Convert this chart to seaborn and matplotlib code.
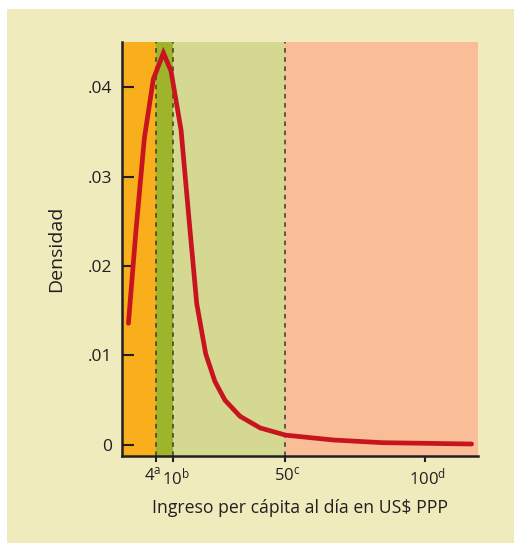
import matplotlib
matplotlib.use("Agg")
import matplotlib.pyplot as plt
import matplotlib.transforms as mtransforms
import seaborn as sns
from matplotlib.patches import Rectangle

# curve (income in US$ PPP per day, density)
income = [-6.0, -3.3, -0.3, 2.9, 6.5, 9.2, 12.8, 16.0, 18.4, 21.6, 24.9, 28.5,
          33.9, 41.1, 50.2, 67.1, 84.6, 116.6]
density = [0.0136, 0.0240, 0.0343, 0.0409, 0.0438, 0.0418, 0.0352, 0.0240,
           0.0158, 0.0102, 0.0071, 0.0050, 0.0032, 0.0019, 0.0011, 0.00056,
           0.00026, 0.00011]

thresholds = [4, 10, 50]
xtick_vals = [4, 10, 50, 100]
xtick_sup = ["a", "b", "c", "d"]
ytick_vals = [0, 0.01, 0.02, 0.03, 0.04]
ytick_labels = ["0", ".01", ".02", ".03", ".04"]

band_edges = [-8.3, 4, 10, 50, 118.9]
band_colors = ["#F9AE1C", "#9DB42B", "#D5D890", "#F9BD97"]

sns.set_style("ticks")
plt.rcParams["font.family"] = ["Open Sans", "DejaVu Sans"]
plt.rcParams["mathtext.fontset"] = "custom"
plt.rcParams["mathtext.rm"] = "Open Sans"
plt.rcParams["mathtext.it"] = "Open Sans"

fig = plt.figure(figsize=(5.14, 5.43), dpi=100, facecolor="white")
fig.patches.append(Rectangle((7 / 514, 0), 1, 1 - 9 / 543, transform=fig.transFigure,
                             facecolor="#EFEBBD", edgecolor="none", zorder=-10))

ax = fig.add_axes([122 / 514, 1 - 456 / 543, (478 - 122) / 514, (456 - 42) / 543])
ax.set_facecolor("none")

for i, c in enumerate(band_colors):
    ax.axvspan(band_edges[i], band_edges[i + 1], color=c, lw=0, zorder=0)
for t in thresholds:
    ax.axvline(t, color="#3a3a30", lw=1.1, ls=(0, (3, 3)), zorder=1)

sns.lineplot(x=income, y=density, ax=ax, color="#C8141F", lw=3.4, zorder=3,
             solid_capstyle="round", solid_joinstyle="miter")

ax.set_xlim(band_edges[0], band_edges[-1])
ax.set_ylim(-0.00123, 0.04503)

ax.set_xticks(xtick_vals)
ax.set_xticklabels([r"$\mathrm{%d^{%s}}$" % (v, s) for v, s in zip(xtick_vals, xtick_sup)],
                   fontsize=12, color="#231F20")
ax.set_yticks(ytick_vals)
ax.set_yticklabels(ytick_labels, fontsize=12.5, color="#231F20")

ax.tick_params(axis="y", direction="in", length=8.6, width=1.5, pad=7, color="#231F20")
ax.tick_params(axis="x", direction="out", length=4.5, width=1.5, pad=3, color="#231F20")

# nudge the crowded "4" / "10" labels apart (after tick_params, which resets transforms)
shifts = [-4, 3, 2, 2]
for tick, dx in zip(ax.xaxis.get_major_ticks(), shifts):
    lab = tick.label1
    lab.set_transform(lab.get_transform() + mtransforms.ScaledTranslation(dx / 100, 0, fig.dpi_scale_trans))

for side in ["top", "right"]:
    ax.spines[side].set_visible(False)
for side in ["left", "bottom"]:
    ax.spines[side].set_linewidth(1.8)
    ax.spines[side].set_color("#231F20")

ax.set_xlabel("Ingreso per cápita al día en US$ PPP", fontsize=12.7, color="#231F20", labelpad=8)
ax.set_ylabel("Densidad", fontsize=14, color="#231F20", labelpad=16)

fig.savefig("out.png", dpi=100, facecolor="white")
